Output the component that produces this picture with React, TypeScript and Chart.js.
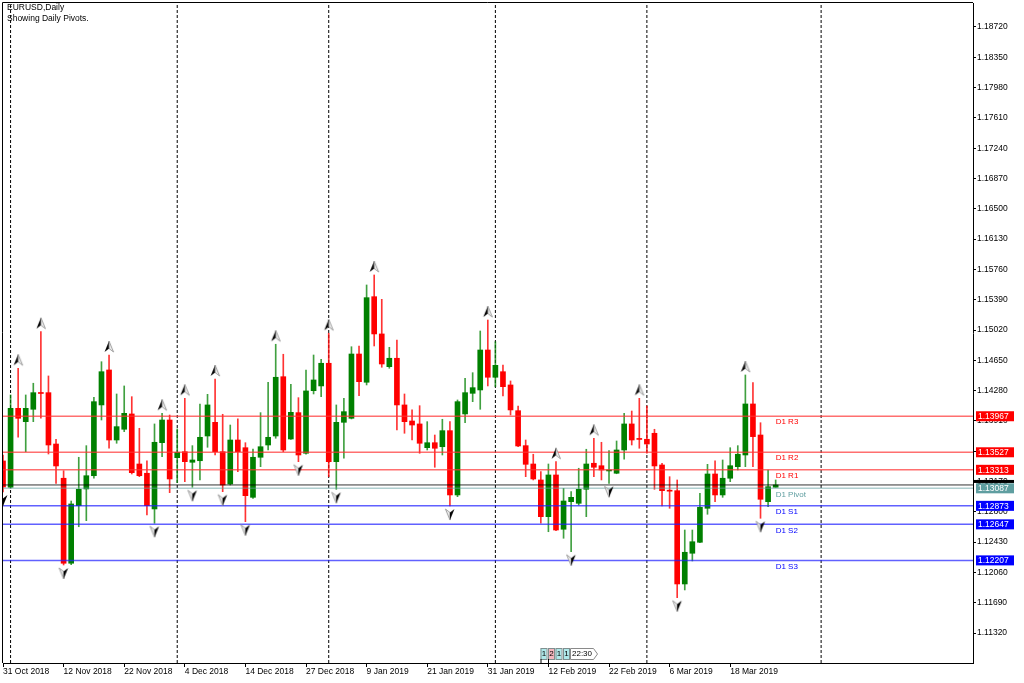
import React, { useEffect, useRef } from 'react';
import { Chart, registerables } from 'chart.js';

Chart.register(...registerables);

const FONT = '"Liberation Sans", Arial, sans-serif';

// ---- data ----
const dateLabels = ['31 Oct 2018', '12 Nov 2018', '22 Nov 2018', '4 Dec 2018', '14 Dec 2018', '27 Dec 2018', '9 Jan 2019', '21 Jan 2019', '31 Jan 2019', '12 Feb 2019', '22 Feb 2019', '6 Mar 2019', '18 Mar 2019'];
const dateTickIndex = [0, 8, 16, 24, 32, 40, 48, 56, 64, 72, 80, 88, 96];
const priceTicks = [1.1132, 1.1169, 1.1206, 1.1243, 1.128, 1.1317, 1.1354, 1.1391, 1.1428, 1.1465, 1.1502, 1.1539, 1.1576, 1.1613, 1.165, 1.1687, 1.1724, 1.1761, 1.1798, 1.1835, 1.1872];

const opens = [1.13421, 1.131, 1.14064, 1.13901, 1.14052, 1.1425, 1.14255, 1.13628, 1.1321, 1.12172, 1.12875, 1.13079, 1.13241, 1.14105, 1.14532, 1.13677, 1.13808, 1.13995, 1.13384, 1.13271, 1.12835, 1.13644, 1.13921, 1.13461, 1.13534, 1.13405, 1.13424, 1.13726, 1.13893, 1.13534, 1.1314, 1.13677, 1.13583, 1.12977, 1.13466, 1.13616, 1.13726, 1.1445, 1.13689, 1.14011, 1.13515, 1.14279, 1.14337, 1.14614, 1.13412, 1.13893, 1.13942, 1.14727, 1.14382, 1.15427, 1.14972, 1.14572, 1.14675, 1.14105, 1.13909, 1.13873, 1.13583, 1.13644, 1.13595, 1.13791, 1.13006, 1.13995, 1.14247, 1.14288, 1.14776, 1.14443, 1.14511, 1.14349, 1.14035, 1.13608, 1.13384, 1.13189, 1.12741, 1.1325, 1.12587, 1.12924, 1.12904, 1.13075, 1.13393, 1.13363, 1.13299, 1.13271, 1.13555, 1.13873, 1.1369, 1.13686, 1.13759, 1.13372, 1.1306, 1.13058, 1.11919, 1.12294, 1.12428, 1.12843, 1.13262, 1.13006, 1.1321, 1.13351, 1.13494, 1.14117, 1.13738, 1.12924, 1.131];
const highs = [1.13494, 1.14227, 1.14553, 1.14227, 1.1437, 1.15, 1.14459, 1.13686, 1.13302, 1.12932, 1.13466, 1.13608, 1.14199, 1.14633, 1.14715, 1.14239, 1.14337, 1.14206, 1.1382, 1.13424, 1.13873, 1.14003, 1.13982, 1.13812, 1.14186, 1.13608, 1.14117, 1.14235, 1.14422, 1.13991, 1.1386, 1.13934, 1.13644, 1.13567, 1.14011, 1.14382, 1.14846, 1.14724, 1.14357, 1.14194, 1.14532, 1.14715, 1.14663, 1.1498, 1.14105, 1.14186, 1.14816, 1.14825, 1.1557, 1.15692, 1.15395, 1.14809, 1.14898, 1.14239, 1.14044, 1.14096, 1.13901, 1.13738, 1.1393, 1.13901, 1.14166, 1.14431, 1.14499, 1.15008, 1.15142, 1.14878, 1.14593, 1.14398, 1.14092, 1.13677, 1.13503, 1.1329, 1.13384, 1.13412, 1.13087, 1.13046, 1.13332, 1.13564, 1.13698, 1.13649, 1.13547, 1.13665, 1.14003, 1.14031, 1.14186, 1.14092, 1.13808, 1.13393, 1.13229, 1.13189, 1.12578, 1.12578, 1.13026, 1.1338, 1.13424, 1.13433, 1.13583, 1.13608, 1.14471, 1.14377, 1.13888, 1.13311, 1.13189];
const lows = [1.13042, 1.13087, 1.1371, 1.13534, 1.13901, 1.13942, 1.13506, 1.13148, 1.12151, 1.12155, 1.12618, 1.12692, 1.1321, 1.13921, 1.13576, 1.13637, 1.13779, 1.13262, 1.13229, 1.12761, 1.1266, 1.13473, 1.13034, 1.13156, 1.13168, 1.131, 1.13189, 1.13588, 1.13494, 1.13046, 1.13128, 1.1329, 1.1268, 1.12965, 1.13351, 1.13555, 1.13698, 1.13534, 1.13685, 1.13412, 1.13503, 1.14239, 1.14206, 1.13229, 1.13075, 1.13454, 1.13934, 1.14218, 1.14349, 1.14825, 1.14565, 1.14553, 1.13799, 1.13759, 1.13677, 1.13515, 1.13555, 1.13344, 1.13494, 1.12871, 1.12985, 1.13888, 1.14145, 1.14052, 1.14337, 1.14328, 1.14214, 1.13982, 1.13595, 1.13229, 1.13189, 1.1266, 1.12557, 1.1257, 1.12477, 1.12313, 1.12883, 1.12741, 1.13229, 1.13189, 1.13148, 1.13265, 1.13442, 1.13616, 1.13576, 1.13515, 1.13075, 1.12871, 1.12843, 1.11752, 1.11846, 1.122, 1.12423, 1.1277, 1.12924, 1.12977, 1.13168, 1.13311, 1.13351, 1.13351, 1.12721, 1.12863, 1.131];
const closes = [1.13103, 1.14064, 1.13942, 1.14064, 1.14255, 1.14245, 1.13616, 1.1336, 1.12172, 1.12896, 1.13075, 1.13241, 1.14145, 1.14511, 1.13677, 1.1384, 1.14003, 1.13278, 1.13241, 1.12875, 1.13649, 1.13921, 1.13201, 1.13527, 1.13412, 1.13433, 1.1371, 1.14105, 1.13534, 1.13128, 1.13677, 1.13534, 1.12997, 1.13466, 1.13595, 1.1371, 1.14443, 1.13555, 1.14015, 1.13494, 1.14276, 1.1441, 1.14614, 1.13412, 1.13893, 1.14023, 1.14727, 1.14389, 1.15415, 1.14972, 1.14605, 1.14675, 1.14105, 1.13901, 1.1386, 1.13637, 1.13644, 1.13576, 1.13791, 1.13006, 1.14145, 1.14255, 1.14316, 1.14776, 1.14443, 1.14589, 1.14328, 1.14044, 1.13604, 1.1338, 1.13201, 1.12741, 1.1325, 1.12578, 1.12932, 1.12977, 1.13075, 1.13384, 1.13344, 1.13311, 1.13311, 1.13555, 1.13873, 1.13677, 1.13684, 1.13628, 1.1336, 1.13058, 1.13052, 1.11919, 1.12306, 1.12435, 1.12855, 1.13262, 1.13006, 1.1321, 1.13363, 1.13503, 1.14117, 1.13718, 1.12953, 1.13107, 1.13128];

const upFractals = [2, 5, 14, 21, 24, 28, 36, 43, 49, 64, 73, 78, 84, 98];
const downFractals = [0, 8, 20, 25, 29, 32, 39, 44, 59, 75, 80, 89, 100];
const periodSeparators = [1, 23, 43, 65, 85, 108];

const pivotNames = ['D1 R3', 'D1 R2', 'D1 R1', 'D1 Pivot', 'D1 S1', 'D1 S2', 'D1 S3'];
const pivotValues = [1.13967, 1.13527, 1.13313, 1.13087, 1.12873, 1.12647, 1.12207];
const pivotKinds = ['R', 'R', 'R', 'P', 'S', 'S', 'S'];

// ---- view ----
const X_MIN = 0;
const X_MAX = 128.05;
const Y_MIN = 1.10954;
const Y_MAX = 1.19013;

const KIND_TEXT: any = { R: '#ff0000', P: '#5f9ea0', S: '#0000ff' };
const KIND_LINE: any = { R: 'rgba(255,50,50,0.7)', P: 'rgba(95,158,160,0.5)', S: 'rgba(30,30,255,0.7)' };
const KIND_BOX: any = { R: '#ff0000', P: '#5f9ea0', S: '#0000ff' };

function makeArrow(up: boolean): HTMLCanvasElement {
  const c = document.createElement('canvas');
  c.width = 12;
  c.height = 34;
  const g = c.getContext('2d') as CanvasRenderingContext2D;
  const cx = 6;
  if (up) {
    const tipY = 3, baseY = 14, notchY = 10.5;
    g.beginPath(); g.moveTo(cx, tipY); g.lineTo(1.5, baseY); g.lineTo(cx, notchY); g.closePath();
    g.fillStyle = '#000'; g.fill();
    g.beginPath(); g.moveTo(cx, tipY); g.lineTo(10.5, baseY); g.lineTo(cx, notchY); g.closePath();
    g.fillStyle = '#eeeeee'; g.fill(); g.strokeStyle = '#8c8c8c'; g.lineWidth = 0.8; g.stroke();
  } else {
    const tipY = 31, baseY = 20, notchY = 23.5;
    g.beginPath(); g.moveTo(cx, tipY); g.lineTo(1.5, baseY); g.lineTo(cx, notchY); g.closePath();
    g.fillStyle = '#eeeeee'; g.fill(); g.strokeStyle = '#8c8c8c'; g.lineWidth = 0.8; g.stroke();
    g.beginPath(); g.moveTo(cx, tipY); g.lineTo(10.5, baseY); g.lineTo(cx, notchY); g.closePath();
    g.fillStyle = '#000'; g.fill();
  }
  return c;
}

const overlayPlugin = {
  id: 'mtOverlay',
  afterDraw(chart: any) {
    const { ctx, chartArea: a, scales } = chart;
    const xs = scales.x;
    const ys = scales.y;
    ctx.save();

    // frame
    ctx.strokeStyle = '#000';
    ctx.lineWidth = 1;
    ctx.beginPath();
    ctx.moveTo(a.left - 0.5, a.bottom);
    ctx.lineTo(a.left - 0.5, a.top - 0.5);
    ctx.lineTo(a.right, a.top - 0.5);
    ctx.stroke();

    // title
    ctx.fillStyle = '#000';
    ctx.font = '8.5px ' + FONT;
    ctx.textAlign = 'left';
    ctx.textBaseline = 'alphabetic';
    ctx.fillText('EURUSD,Daily', a.left + 4, a.top + 7);
    ctx.fillText('Showing Daily Pivots.', a.left + 4, a.top + 18);

    // pivot names inside chart
    const lastIdx = closes.length - 1;
    const tx = xs.getPixelForValue(lastIdx);
    ctx.font = '8px ' + FONT;
    ctx.textBaseline = 'top';
    pivotValues.forEach((v, k) => {
      const y = ys.getPixelForValue(v);
      ctx.fillStyle = KIND_TEXT[pivotKinds[k]];
      ctx.fillText(pivotNames[k], tx, y + 2);
    });

    // bid marker strip on axis
    const bidY = ys.getPixelForValue(closes[lastIdx]);
    ctx.fillStyle = '#000';
    ctx.fillRect(a.right + 1, bidY - 5, 40, 3);

    // pivot price boxes on axis
    ctx.font = '8.5px ' + FONT;
    ctx.textBaseline = 'middle';
    pivotValues.forEach((v, k) => {
      const y = ys.getPixelForValue(v);
      ctx.fillStyle = KIND_BOX[pivotKinds[k]];
      ctx.fillRect(a.right + 3, y - 5, 38, 10);
      ctx.fillStyle = '#fff';
      ctx.fillText(v.toFixed(5), a.right + 5, y + 0.5);
    });

    // small time/trade boxes near the bottom
    const boxY = a.bottom - 15;
    const boxes = [
      { x: 540.5, t: '1', c: '#aee9ea' },
      { x: 548, t: '2', c: '#f5b5bd' },
      { x: 555.5, t: '1', c: '#aee9ea' },
      { x: 563, t: '1', c: '#aee9ea' },
    ];
    ctx.font = '8px ' + FONT;
    ctx.lineWidth = 1;
    boxes.forEach((b) => {
      ctx.fillStyle = b.c;
      ctx.fillRect(b.x, boxY, 6, 11);
      ctx.strokeStyle = '#7f8f8f';
      ctx.strokeRect(b.x + 0.5, boxY + 0.5, 6, 11);
      ctx.fillStyle = '#000';
      ctx.textAlign = 'center';
      ctx.fillText(b.t, b.x + 3.5, boxY + 6);
    });
    ctx.strokeStyle = '#000';
    ctx.beginPath();
    ctx.moveTo(541, boxY + 11); ctx.lineTo(541, a.bottom);
    ctx.moveTo(548.5, boxY + 11); ctx.lineTo(548.5, a.bottom);
    ctx.stroke();
    ctx.fillStyle = '#fff';
    ctx.strokeStyle = '#8a8a8a';
    ctx.beginPath();
    ctx.moveTo(570.5, boxY + 0.5);
    ctx.lineTo(593.5, boxY + 0.5);
    ctx.lineTo(597.5, boxY + 6);
    ctx.lineTo(593.5, boxY + 11.5);
    ctx.lineTo(570.5, boxY + 11.5);
    ctx.closePath();
    ctx.fill();
    ctx.stroke();
    ctx.fillStyle = '#000';
    ctx.textAlign = 'left';
    ctx.fillText('22:30', 572, boxY + 6);

    ctx.restore();
  },
};

function zeroPadding(scale: any) {
  scale.paddingTop = 0;
  scale.paddingBottom = 0;
  scale.paddingLeft = 0;
  scale.paddingRight = 0;
}

export default function App() {
  const ref = useRef<HTMLCanvasElement>(null);

  useEffect(() => {
    const canvas = ref.current as HTMLCanvasElement;
    const idx = closes.map((_, i) => i);
    const bull = closes.map((c, i) => c >= opens[i]);
    const bodyColors = bull.map((b) => (b ? '#008000' : '#ff0000'));
    const wickColors = bull.map((b) => (b ? 'rgba(0,128,0,0.75)' : 'rgba(255,0,0,0.8)'));
    const upArrow = makeArrow(true);
    const downArrow = makeArrow(false);

    const datasets: any[] = [];
    periodSeparators.forEach((s) => {
      datasets.push({
        type: 'line',
        data: [{ x: s, y: Y_MIN }, { x: s, y: Y_MAX }],
        borderColor: '#000',
        borderWidth: 1,
        borderDash: [3, 2],
        pointRadius: 0,
        order: 20,
        clip: 0,
      });
    });
    datasets.push({
      type: 'bar',
      data: idx.map((i) => ({ x: i, y: [lows[i], highs[i]] })),
      backgroundColor: wickColors,
      barThickness: 1,
      grouped: false,
      order: 6,
      clip: 0,
    });
    datasets.push({
      type: 'bar',
      data: idx.map((i) => ({ x: i, y: [opens[i], closes[i]] })),
      backgroundColor: bodyColors,
      barThickness: 5,
      minBarLength: 1,
      grouped: false,
      order: 5,
      clip: 0,
    });
    pivotValues.forEach((v, k) => {
      datasets.push({
        type: 'line',
        data: [{ x: X_MIN, y: v }, { x: X_MAX, y: v }],
        borderColor: KIND_LINE[pivotKinds[k]],
        borderWidth: 1.5,
        pointRadius: 0,
        order: 3,
        clip: 0,
      });
    });
    datasets.push({
      type: 'line',
      data: [{ x: X_MIN, y: closes[closes.length - 1] }, { x: X_MAX, y: closes[closes.length - 1] }],
      borderColor: 'rgba(0,0,0,0.8)',
      borderWidth: 1,
      pointRadius: 0,
      order: 2,
      clip: 0,
    });
    datasets.push({
      type: 'scatter',
      data: upFractals.map((i) => ({ x: i, y: highs[i] })),
      pointStyle: upArrow,
      pointRadius: 6,
      order: 1,
      clip: 0,
    });
    datasets.push({
      type: 'scatter',
      data: downFractals.map((i) => ({ x: i, y: lows[i] })),
      pointStyle: downArrow,
      pointRadius: 6,
      order: 1,
      clip: 0,
    });

    const chart = new Chart(canvas, {
      type: 'bar',
      data: { datasets },
      options: {
        responsive: false,
        animation: false,
        devicePixelRatio: 1,
        events: [],
        layout: { autoPadding: false, padding: { top: 3, left: 3, right: 0, bottom: 0 } },
        plugins: {
          legend: { display: false },
          tooltip: { enabled: false },
          title: { display: false },
        },
        scales: {
          x: {
            type: 'linear',
            position: 'bottom',
            min: X_MIN,
            max: X_MAX,
            offset: false,
            grid: { display: true, drawOnChartArea: false, drawTicks: true, tickLength: 4, color: '#000', offset: false },
            border: { display: true, color: '#000', width: 1 },
            afterBuildTicks: (scale: any) => {
              scale.ticks = dateTickIndex.map((v) => ({ value: v }));
            },
            afterFit: (scale: any) => {
              scale.height = 20;
              zeroPadding(scale);
            },
            ticks: {
              autoSkip: false,
              maxRotation: 0,
              minRotation: 0,
              align: 'start',
              padding: 0,
              color: '#000',
              font: { family: FONT, size: 8.5 },
              callback: (value: any) => {
                const k = dateTickIndex.indexOf(Math.round(Number(value)));
                return k >= 0 ? dateLabels[k] : '';
              },
            },
          },
          y: {
            type: 'linear',
            position: 'right',
            min: Y_MIN,
            max: Y_MAX,
            grid: { display: true, drawOnChartArea: false, drawTicks: true, tickLength: 3, color: '#000' },
            border: { display: true, color: '#000', width: 1 },
            afterBuildTicks: (scale: any) => {
              scale.ticks = priceTicks.map((v) => ({ value: v }));
            },
            afterFit: (scale: any) => {
              scale.width = 51;
              zeroPadding(scale);
            },
            ticks: {
              autoSkip: false,
              padding: 1,
              color: '#000',
              font: { family: FONT, size: 8.5 },
              callback: (value: any) => Number(value).toFixed(5),
            },
          },
        },
      } as any,
      plugins: [overlayPlugin],
    } as any);

    return () => chart.destroy();
  }, []);

  return (
    <div style={{ position: 'fixed', left: 0, top: 0, width: 1024, height: 683, background: '#fff' }}>
      <canvas ref={ref} width={1024} height={683} style={{ display: 'block', width: 1024, height: 683 }} />
    </div>
  );
}
